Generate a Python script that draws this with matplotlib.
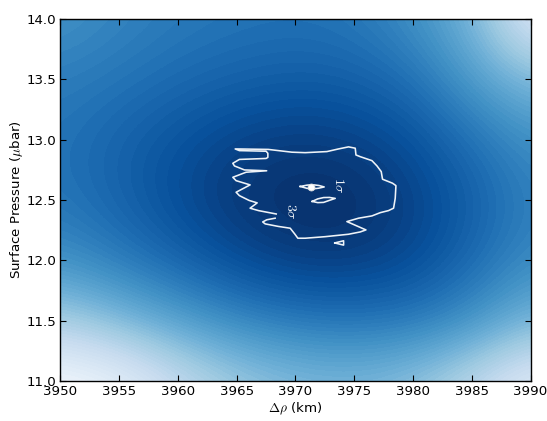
import numpy as np
import matplotlib
matplotlib.use("Agg")
import matplotlib.pyplot as plt

# Grid of the fit surface: shell offset (km) and surface pressure (ubar)
delta_rho = [3950, 3955, 3960, 3965, 3970, 3975, 3980, 3985, 3990]
pressure = [11.0, 11.5, 12.0, 12.5, 13.0, 13.5, 14.0]

# Relative chi-square (0 at best fit, 1 at worst), one row per pressure
chi2_rel = [
    [1.00, 0.94, 0.77, 0.64, 0.57, 0.55, 0.60, 0.74, 0.90],  # 11.0
    [0.66, 0.55, 0.44, 0.34, 0.28, 0.26, 0.28, 0.37, 0.53],  # 11.5
    [0.37, 0.29, 0.20, 0.11, 0.05, 0.05, 0.10, 0.22, 0.35],  # 12.0
    [0.27, 0.20, 0.11, 0.03, 0.00, 0.00, 0.07, 0.18, 0.31],  # 12.5
    [0.26, 0.20, 0.14, 0.08, 0.05, 0.07, 0.13, 0.25, 0.37],  # 13.0
    [0.30, 0.27, 0.23, 0.20, 0.18, 0.19, 0.25, 0.42, 0.56],  # 13.5
    [0.38, 0.33, 0.29, 0.27, 0.26, 0.28, 0.37, 0.53, 0.87],  # 14.0
]

# Confidence contours
sigma3_rho = [3968.28, 3967.57, 3967.22, 3967.43, 3968.54, 3969.56, 3969.94, 3970.21,
              3970.83, 3972.54, 3974.52, 3975.51, 3976.00, 3974.38, 3975.37, 3976.51,
              3977.22, 3977.92, 3978.35, 3978.49, 3978.55, 3978.26, 3977.41, 3977.30,
              3976.94, 3976.51, 3975.51, 3975.15, 3975.09, 3974.52, 3973.67, 3972.68,
              3970.83, 3969.70, 3967.69, 3964.88, 3965.24, 3967.51, 3967.66, 3967.66,
              3967.51, 3965.24, 3964.68, 3964.82, 3965.67, 3967.56, 3965.81, 3964.68,
              3964.96, 3966.15, 3964.96, 3965.24, 3966.07, 3966.75, 3966.15, 3966.86,
              3968.37]
sigma3_p = [12.349, 12.336, 12.318, 12.302, 12.281, 12.266, 12.219, 12.183,
            12.183, 12.196, 12.216, 12.235, 12.252, 12.321, 12.349, 12.368,
            12.395, 12.412, 12.432, 12.514, 12.619, 12.639, 12.672, 12.735,
            12.782, 12.826, 12.859, 12.873, 12.929, 12.940, 12.923, 12.901,
            12.892, 12.896, 12.919, 12.923, 12.909, 12.904, 12.887, 12.853,
            12.844, 12.836, 12.804, 12.782, 12.749, 12.742, 12.730, 12.688,
            12.660, 12.625, 12.564, 12.536, 12.496, 12.476, 12.432, 12.412,
            12.384]
sigma3_islet_rho = [3973.35, 3974.10, 3974.10, 3973.35]
sigma3_islet_p = [12.144, 12.162, 12.126, 12.144]

sigma1a_rho = [3970.41, 3971.0, 3971.5, 3972.0, 3972.45, 3972.0, 3971.5, 3971.0, 3970.41]
sigma1a_p = [12.612, 12.623, 12.626, 12.620, 12.608, 12.598, 12.592, 12.596, 12.612]
sigma1b_rho = [3971.43, 3971.9, 3972.4, 3972.9, 3973.39, 3972.9, 3972.4, 3971.9, 3971.43]
sigma1b_p = [12.488, 12.509, 12.520, 12.521, 12.513, 12.497, 12.480, 12.478, 12.488]

best_rho, best_p = 3971.3, 12.61

plt.rcParams["mathtext.fontset"] = "cm"
plt.rcParams["font.family"] = ["DejaVu Sans"]
fs = 9.6

fig = plt.figure(figsize=(5.47, 4.21), dpi=100)
ax = fig.add_axes([0.110, 0.095, 0.860, 0.860])

dx = (delta_rho[1] - delta_rho[0]) / 2
dy = (pressure[1] - pressure[0]) / 2
ax.imshow(np.array(chi2_rel), origin="lower", aspect="auto",
          extent=(delta_rho[0] - dx, delta_rho[-1] + dx, pressure[0] - dy, pressure[-1] + dy),
          cmap=plt.get_cmap("Blues_r", 64), vmin=0, vmax=1, interpolation="bicubic")

line_kw = dict(color="#eef3f8", lw=1.15)
ax.plot(sigma3_rho, sigma3_p, **line_kw)
ax.plot(sigma3_islet_rho, sigma3_islet_p, **line_kw)
ax.plot(sigma1a_rho, sigma1a_p, **line_kw)
ax.plot(sigma1b_rho, sigma1b_p, **line_kw)
ax.plot([best_rho], [best_p], "o", ms=5, mfc="white", mec="#dddddd", mew=0.6)

ax.text(3969.64, 12.401, r"$3\sigma$", color="#eef3f8", fontsize=10,
        rotation=-90, ha="center", va="center")
ax.text(3973.67, 12.620, r"$1\sigma$", color="#eef3f8", fontsize=10,
        rotation=-90, ha="center", va="center")

ax.set_xlim(3950, 3990)
ax.set_ylim(11.0, 14.0)
ax.set_xticks(np.arange(3950, 3991, 5))
ax.set_yticks(np.arange(11.0, 14.01, 0.5))
ax.set_yticklabels([f"{v:.1f}" for v in np.arange(11.0, 14.01, 0.5)])
ax.tick_params(direction="in", top=True, right=True, length=4, width=0.8,
               labelsize=fs, pad=3)
for s in ax.spines.values():
    s.set_linewidth(1.0)
ax.set_xlabel(r"$\Delta\rho$ (km)", fontsize=fs, labelpad=2)
ax.set_ylabel(r"Surface Pressure ($\mu$bar)", fontsize=fs, labelpad=1)

fig.savefig("out.png", dpi=100)
